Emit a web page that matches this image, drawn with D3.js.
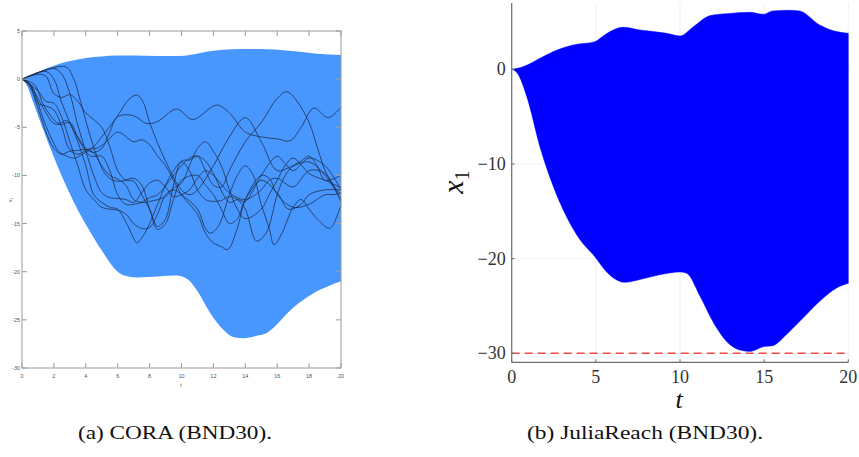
<!DOCTYPE html>
<html><head><meta charset="utf-8">
<script src="https://cdn.jsdelivr.net/npm/d3@7"></script>
<style>body{margin:0;background:#fff}svg{display:block}</style>
</head><body>
<script>
// ---------- DATA ----------
// (a) CORA reach set bounds (t, x1)
const coraUpper = [[0,0],[0.7,0.5],[1.3,0.95],[2,1.4],[2.8,1.8],[4,2.2],[5,2.35],[5.9,2.45],[7,2.45],[8.5,2.4],[9.9,2.4],[10.5,2.5],[11.1,2.7],[12,2.95],[13.2,3.1],[14.3,3.12],[15.3,3.1],[16.4,3.0],[17.4,2.85],[18.5,2.65],[20,2.5]];
const coraLower = [[0,0],[0.3,-0.6],[0.7,-2.4],[1.3,-5.1],[2,-8.1],[2.8,-11.2],[3.6,-13.9],[4.4,-16.2],[5.2,-18.3],[5.8,-19.7],[6.4,-20.4],[7.2,-20.6],[8.5,-20.5],[9.7,-20.4],[10.4,-20.8],[11,-22],[11.8,-24.3],[12.6,-26.0],[13.3,-26.8],[13.9,-26.9],[14.6,-26.7],[15.3,-26.4],[15.9,-25.6],[16.7,-24.2],[17.4,-23.2],[18.3,-22.2],[19.2,-21.5],[20,-21.0]];
// (a) simulated trajectories
const trajectories = [
 [[0,0],[0.5,-0.8],[1,-3],[1.5,-5.5],[2,-7.2],[2.5,-7.8],[3,-7.5],[3.5,-7.8],[4,-7.4],[4.5,-7.0],[5,-6.0],[6,-3.8],[6.7,-2.1],[7.2,-1.65],[7.6,-2.4],[8,-4.5],[9,-8.5],[10,-11.5],[10.5,-12],[11,-11.5],[12,-9],[13,-6],[14,-4.0],[15,-6.5],[16,-9.5],[17,-9],[18,-8.6],[19,-10],[20,-12.5]],
 [[0,0],[0.5,-0.5],[1,-2],[1.5,-3.5],[2,-4.6],[2.5,-4.7],[3,-4.5],[3.5,-6],[4,-7.2],[4.5,-7.6],[5,-7.2],[5.5,-5.5],[6,-3.9],[7,-3.8],[7.8,-4.6],[8.5,-4.4],[9.7,-3.1],[10.7,-4.2],[12.2,-2.7],[13,-3.5],[14,-5.5],[15,-6.0],[16,-6.2],[16.8,-6.4],[17.5,-5],[18.3,-3.0],[19.2,-4.0],[20,-2.9]],
 [[0,0],[1,0.5],[1.5,0.3],[2,-1.5],[2.5,-1.9],[3,-1.6],[3.5,-2.3],[4,-3.5],[4.5,-4.2],[5,-5],[5.5,-7],[6,-9.5],[6.5,-10.5],[7,-10.6],[7.5,-12],[8,-13.5],[8.5,-15.3],[9,-14.5],[9.5,-11],[10,-8.5],[10.5,-8.4],[11,-8],[11.5,-8.5],[12,-9.8],[13,-12.8],[13.5,-12.5],[14,-12.7],[14.5,-11.5],[15,-10],[16,-8.0],[16.5,-8.8],[17,-9.5],[18,-8.2],[19,-9],[20,-11.5]],
 [[0,0],[1.5,0.8],[2,0],[2.5,-2.5],[3,-4.5],[3.5,-6.5],[4,-9],[4.5,-12],[5,-12.8],[5.5,-13.3],[6,-13.5],[6.5,-14.8],[7,-16.5],[7.2,-17.0],[7.7,-16],[8.5,-13],[9,-11],[9.5,-9.5],[10,-8.6],[10.5,-9.5],[11,-11.5],[11.5,-12.5],[12,-12.7],[12.5,-12.6],[13,-12.2],[13.5,-12.5],[14,-13.5],[14.7,-16.8],[15.3,-16.0],[16,-12],[16.5,-10],[17,-9],[17.5,-8.5],[18,-8],[18.5,-9],[19,-10.5],[20,-10]],
 [[0,0],[2,1.1],[2.5,0.5],[3,-1.5],[3.5,-4.8],[4,-7.5],[4.5,-10],[5,-11.8],[5.5,-12.3],[6,-12.4],[6.5,-12.5],[7,-12.8],[7.5,-11.8],[8,-10.8],[8.5,-10.5],[9,-11.2],[9.5,-12.2],[10,-12.0],[10.5,-11.5],[11,-10.3],[11.5,-9.5],[12,-10.0],[13,-11.8],[14,-12.5],[15,-11.5],[15.5,-10.5],[16,-10.3],[17,-11.2],[18,-9.5],[19,-9.8],[20,-12.8]],
 [[0,0],[2.7,1.3],[3.2,0.2],[3.7,-2.5],[4.2,-5.5],[4.7,-8],[5.2,-9.8],[5.7,-10.5],[6.2,-10.6],[7,-10.3],[7.5,-11],[8,-13.5],[8.5,-15.6],[9,-15],[9.5,-12.5],[10,-10.5],[11,-10.0],[11.5,-11.0],[12,-12.0],[12.5,-13.5],[13,-15],[13.5,-14.5],[14,-12.5],[15,-10.5],[16,-11.8],[16.7,-13.5],[17.5,-13],[18,-12],[19,-11.5],[20,-11.5]],
 [[0,0],[0.5,-0.6],[1,-2.5],[1.5,-2.8],[2,-3.2],[2.5,-5],[3,-7.3],[3.5,-7.4],[4,-7.3],[4.5,-7.7],[5,-9],[5.5,-10],[6,-10.4],[6.5,-11],[7,-12.5],[7.5,-12.8],[8,-12.7],[9,-12.2],[9.5,-11.3],[10,-10.8],[10.5,-9],[11,-7.2],[11.5,-6.5],[12,-7.5],[12.5,-9],[13,-11.5],[13.5,-13.5],[14,-14.5],[15,-13.5],[15.5,-12],[16,-10.5],[16.5,-9.0],[17,-8.2],[18,-9.8],[18.5,-10.2],[19,-10.5],[20,-11.3]],
 [[0,0],[0.3,-0.2],[0.8,-1.5],[1.3,-4],[1.8,-6],[2.3,-7.5],[2.8,-8],[3.3,-8.2],[3.8,-7.8],[4.3,-7.3],[4.8,-7.1],[5.3,-6.5],[6,-5.5],[7,-6.5],[7.5,-6.3],[8,-6.8],[8.5,-8],[9,-9],[10,-12],[10.5,-13],[11,-14],[11.5,-16],[12,-17],[12.5,-17.4],[12.9,-17.7],[13.5,-15.5],[14,-12.5],[15,-10.0],[15.5,-10.3],[16,-12],[17,-13.3],[18,-13],[19,-12],[19.5,-12],[20,-11.8]],
 [[0,0],[0.8,-0.6],[1.3,-2.5],[1.8,-3.8],[2.3,-4.6],[2.8,-4.3],[3.3,-5.5],[3.8,-7.0],[4.3,-8],[5,-8],[5.5,-9.5],[6,-12],[6.5,-13],[7,-13],[7.5,-12.8],[8,-12.3],[8.5,-12],[9.5,-10],[10,-9],[10.5,-8.2],[11,-8.0],[11.5,-9.5],[12,-11],[12.5,-11.2],[13,-9.5],[14,-6.5],[15,-4.5],[16,-2],[16.6,-1.3],[17.2,-2.2],[18,-4.5],[18.5,-7],[19,-9.5],[19.5,-11],[20,-12]],
 [[0,0],[1,-1.2],[1.5,-2.3],[2,-2.5],[2.5,-4],[3,-6.5],[3.5,-9],[4,-11.5],[4.5,-12.5],[5,-13.3],[5.5,-13.5],[6,-13.6],[6.5,-14],[7,-15],[7.5,-15.5],[8,-15.4],[8.5,-14],[9,-12],[9.5,-11.5],[10,-12],[11,-13.5],[11.5,-15.5],[11.8,-16],[12.3,-15.3],[13,-12],[13.5,-10],[14,-9],[14.5,-10],[15,-13],[15.5,-15.5],[15.8,-17.2],[16.3,-16],[17,-13.3],[17.5,-12.5],[18,-13.5],[18.5,-14.5],[19.3,-15.5],[19.8,-14],[20,-13]]
];
const coraXTicks = [0,2,4,6,8,10,12,14,16,18,20];
const coraYTicks = [5,0,-5,-10,-15,-20,-25,-30];

// (b) JuliaReach reach set bounds
const jrUpper = [[0,0],[0.35,0.1],[0.7,0.28],[1.68,1.16],[2.48,1.87],[3.66,2.57],[4.95,2.92],[5.25,3.27],[5.84,3.98],[6.63,4.44],[7.62,4.15],[9.2,3.8],[10,3.52],[10.8,4.5],[11.8,5.67],[12.97,5.9],[14.16,6.02],[14.95,5.8],[15.5,6.16],[16.5,6.23],[17.1,6.16],[18.3,4.68],[19.3,3.98],[20,3.8]];
const jrLower = [[0,0],[0.34,-0.42],[0.9,-2.9],[1.68,-8.2],[2.48,-12.4],[3.27,-15.6],[4.06,-18.0],[4.85,-19.6],[5.64,-21.4],[6.24,-22.25],[6.73,-22.5],[7.62,-22.2],[8.8,-21.7],[10,-21.4],[10.4,-21.55],[11.2,-24.0],[12,-26.8],[12.8,-28.8],[13.56,-29.65],[14.16,-29.8],[14.95,-29.3],[15.5,-29.2],[16.3,-28.06],[17.1,-26.65],[18.3,-24.5],[19.3,-23.1],[20,-22.6]];
const jrXTicks = [0,5,10,15,20];
const jrYTicks = [0,-10,-20,-30];
const safetyBound = -30;

const captions = ["(a) CORA (BND30).", "(b) JuliaReach (BND30)."];

// ---------- DRAW ----------
const W = 859, H = 457;
const SERIF = "'Liberation Serif', 'DejaVu Serif', 'Times New Roman', serif";
const SANS = "'Liberation Sans', Arial, sans-serif";
const svg = d3.select("body").append("svg").attr("width", W).attr("height", H);

// ===== Panel (a) =====
const xa = d3.scaleLinear().domain([0,20]).range([22,341]);
const ya = d3.scaleLinear().domain([-30,5]).range([368,31]);
const ga = svg.append("g");
const lineA = d3.line().x(d=>xa(d[0])).y(d=>ya(d[1])).curve(d3.curveMonotoneX);
const upPath = lineA(coraUpper);
const lowerRev = lineA(coraLower.slice().reverse());
ga.append("path").attr("d", upPath + "L" + lowerRev.slice(1) + "Z").attr("fill", "#4797ff").attr("stroke","none");

const lineT = d3.line().x(d=>xa(d[0])).y(d=>ya(d[1])).curve(d3.curveCatmullRom.alpha(0.5));
ga.selectAll("path.traj").data(trajectories).join("path").attr("class","traj")
  .attr("d", lineT).attr("fill","none").attr("stroke","#1c2c48").attr("stroke-width",0.9).attr("stroke-opacity",0.85);

// box
const boxC = "#9a9a9a";
ga.append("rect").attr("x",xa(0)).attr("y",ya(5)).attr("width",xa(20)-xa(0)).attr("height",ya(-30)-ya(5))
  .attr("fill","none").attr("stroke",boxC).attr("stroke-width",1);
const tl = 5;
coraXTicks.forEach(v=>{
  ga.append("line").attr("x1",xa(v)).attr("x2",xa(v)).attr("y1",ya(-30)).attr("y2",ya(-30)-tl).attr("stroke",boxC);
  ga.append("line").attr("x1",xa(v)).attr("x2",xa(v)).attr("y1",ya(5)).attr("y2",ya(5)+tl).attr("stroke",boxC);
  ga.append("text").attr("x",xa(v)).attr("y",ya(-30)+10).attr("text-anchor","middle")
    .attr("font-family",SANS).attr("font-size",5.5).attr("fill","#555").text(v);
});
coraYTicks.forEach(v=>{
  ga.append("line").attr("x1",xa(0)).attr("x2",xa(0)+tl).attr("y1",ya(v)).attr("y2",ya(v)).attr("stroke",boxC);
  ga.append("line").attr("x1",xa(20)).attr("x2",xa(20)-tl).attr("y1",ya(v)).attr("y2",ya(v)).attr("stroke",boxC);
  ga.append("text").attr("x",xa(0)-2).attr("y",ya(v)+2).attr("text-anchor","end")
    .attr("font-family",SANS).attr("font-size",5.5).attr("fill","#555").text(v);
});
ga.append("text").attr("x",181).attr("y",387).attr("text-anchor","middle")
  .attr("font-family",SANS).attr("font-size",5.5).attr("fill","#555").text("t");
ga.append("text").attr("transform","translate(12,200) rotate(-90)").attr("text-anchor","middle")
  .attr("font-family",SANS).attr("font-size",5).attr("fill","#555").text("x₁");

// ===== Panel (b) =====
const xb = d3.scaleLinear().domain([0,20]).range([511.7,848.3]);
const yb = d3.scaleLinear().domain([-30.95,7]).range([362.3,3]);
const gb = svg.append("g");
jrXTicks.forEach(v=>gb.append("line").attr("x1",xb(v)).attr("x2",xb(v)).attr("y1",yb(7)).attr("y2",yb(-30.95)).attr("stroke","#ededed").attr("stroke-width",0.8));
jrYTicks.forEach(v=>gb.append("line").attr("x1",xb(0)).attr("x2",xb(20)).attr("y1",yb(v)).attr("y2",yb(v)).attr("stroke","#ededed").attr("stroke-width",0.8));
const lineB = d3.line().x(d=>xb(d[0])).y(d=>yb(d[1])).curve(d3.curveMonotoneX);
const upB = lineB(jrUpper);
const loBRev = lineB(jrLower.slice().reverse());
gb.append("path").attr("d", upB + "L" + loBRev.slice(1) + "Z").attr("fill","#0000ff").attr("stroke","#0000ff").attr("stroke-width",0.5);
gb.append("line").attr("x1",xb(0)).attr("x2",xb(20)).attr("y1",yb(safetyBound)).attr("y2",yb(safetyBound))
  .attr("stroke","#f04a4a").attr("stroke-width",1.4).attr("stroke-dasharray","8,5");
const axC = "#6e6e6e";
gb.append("line").attr("x1",xb(0)).attr("x2",xb(0)).attr("y1",yb(7)).attr("y2",yb(-30.95)).attr("stroke",axC).attr("stroke-width",1.2);
gb.append("line").attr("x1",xb(0)).attr("x2",xb(20)).attr("y1",yb(-30.95)).attr("y2",yb(-30.95)).attr("stroke",axC).attr("stroke-width",1.2);
const fmt = v => v < 0 ? "\u2212" + Math.abs(v) : String(v);
jrXTicks.forEach(v=>{
  gb.append("line").attr("x1",xb(v)).attr("x2",xb(v)).attr("y1",yb(-30.95)).attr("y2",yb(-30.95)-3).attr("stroke",axC);
  gb.append("text").attr("x",xb(v)).attr("y",yb(-30.95)+21).attr("text-anchor","middle")
    .attr("font-family",SERIF).attr("font-size",18).attr("fill","#333").text(fmt(v));
});
jrYTicks.forEach(v=>{
  gb.append("line").attr("x1",xb(0)).attr("x2",xb(0)+3).attr("y1",yb(v)).attr("y2",yb(v)).attr("stroke",axC);
  gb.append("text").attr("x",xb(0)-6).attr("y",yb(v)+6).attr("text-anchor","end")
    .attr("font-family",SERIF).attr("font-size",18).attr("fill","#333").text(fmt(v));
});
gb.append("text").attr("x",679).attr("y",408).attr("text-anchor","middle")
  .attr("font-family",SERIF).attr("font-style","italic").attr("font-size",26).attr("fill","#111").text("t");
const yl = gb.append("text").attr("transform","translate(463,182) rotate(-90)").attr("text-anchor","middle")
  .attr("font-family",SERIF).attr("font-size",30).attr("fill","#111");
yl.append("tspan").attr("font-style","italic").text("x");
yl.append("tspan").attr("font-size",20).attr("dy",6).text("1");

// ===== Captions =====
svg.append("text").attr("x",175).attr("y",439).attr("text-anchor","middle")
  .attr("font-family",SERIF).attr("font-size",19).attr("textLength",194).attr("lengthAdjust","spacingAndGlyphs")
  .attr("fill","#111").text(captions[0]);
svg.append("text").attr("x",645).attr("y",439).attr("text-anchor","middle")
  .attr("font-family",SERIF).attr("font-size",19).attr("textLength",236).attr("lengthAdjust","spacingAndGlyphs")
  .attr("fill","#111").text(captions[1]);
</script>
</body></html>
